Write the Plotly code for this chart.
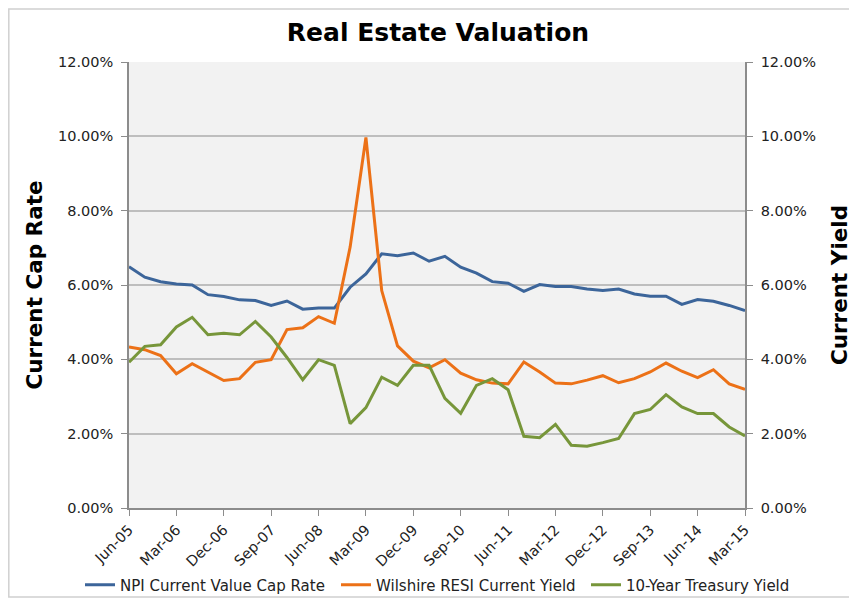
import plotly.graph_objects as go

quarters = []
months = ["Mar", "Jun", "Sep", "Dec"]
for yr in range(2005, 2016):
    for m in months:
        quarters.append(f"{m}-{str(yr)[2:]}")
start = quarters.index("Jun-05")
end = quarters.index("Mar-15")
quarters = quarters[start:end + 1]

npi_cap_rate = [6.49, 6.21, 6.09, 6.03, 6.00, 5.74, 5.69, 5.60, 5.58, 5.45,
                5.57, 5.35, 5.38, 5.38, 5.94, 6.30, 6.84, 6.79, 6.86, 6.64,
                6.77, 6.48, 6.32, 6.09, 6.05, 5.83, 6.01, 5.96, 5.96, 5.89,
                5.85, 5.89, 5.76, 5.70, 5.70, 5.48, 5.61, 5.56, 5.45, 5.31]
wilshire_yield = [4.33, 4.26, 4.10, 3.61, 3.88, 3.66, 3.43, 3.48, 3.92, 3.99,
                  4.80, 4.85, 5.15, 4.97, 7.02, 9.97, 5.85, 4.36, 3.95, 3.77,
                  3.99, 3.63, 3.45, 3.36, 3.34, 3.93, 3.66, 3.36, 3.34, 3.44,
                  3.56, 3.37, 3.48, 3.66, 3.90, 3.68, 3.51, 3.72, 3.34, 3.19]
treasury_yield = [3.92, 4.35, 4.39, 4.87, 5.13, 4.66, 4.70, 4.66, 5.02, 4.60,
                  4.05, 3.45, 3.99, 3.84, 2.27, 2.70, 3.52, 3.30, 3.84, 3.84,
                  2.95, 2.55, 3.30, 3.48, 3.18, 1.93, 1.89, 2.25, 1.69, 1.66,
                  1.76, 1.87, 2.54, 2.65, 3.05, 2.72, 2.54, 2.54, 2.18, 1.94]
tick_labels = quarters[::3]
y_tick_values = [0, 2, 4, 6, 8, 10, 12]
y_tick_text = [f"{v:.2f}%" for v in y_tick_values]

FONT = "DejaVu Sans"
idx = list(range(len(quarters)))

# page body has an 8px margin; figure is sized/positioned to compensate
OFF = 8
W, H = 857 - OFF, 602 - OFF
PL, PR, PT, PB = 129, 745, 62, 508          # plot area in page pixels
L, R, T, B = PL - OFF, W - (PR - OFF), PT - OFF, H - (PB - OFF)
pw, ph = W - L - R, H - T - B

def px(xp):
    return (xp - OFF - L) / pw
def py(yp):
    return (H - B - (yp - OFF)) / ph
def cx(xp):
    return (xp - OFF) / W
def cy(yp):
    return 1 - (yp - OFF) / H

fig = go.Figure()
fig.add_trace(go.Scatter(x=idx, y=npi_cap_rate, mode="lines", name="NPI Current Value Cap Rate",
                         line=dict(color="#3C659A", width=3), legend="legend"))
fig.add_trace(go.Scatter(x=idx, y=wilshire_yield, mode="lines", name="Wilshire RESI Current Yield",
                         line=dict(color="#EC7117", width=3), yaxis="y2", legend="legend2"))
fig.add_trace(go.Scatter(x=idx, y=treasury_yield, mode="lines", name="10-Year Treasury Yield",
                         line=dict(color="#77963A", width=3), yaxis="y2", legend="legend3"))

yaxis_common = dict(range=[0, 12], tickvals=y_tick_values, ticktext=y_tick_text,
                    ticks="outside", ticklen=6, tickcolor="#8c8c8c", automargin=False,
                    ticklabelstandoff=5,
                    showline=True, linecolor="#8c8c8c", linewidth=1.5,
                    tickfont=dict(family=FONT, size=14.5, color="#222"), zeroline=False, fixedrange=True)

def legend_at(xline):
    return dict(orientation="h", xref="container", yref="container", x=cx(xline - 5), xanchor="left",
                y=cy(585), yanchor="middle", font=dict(family=FONT, size=15, color="#222"),
                itemwidth=30, bgcolor="rgba(0,0,0,0)", borderwidth=0)

fig.update_layout(
    width=W, height=H,
    margin=dict(l=L, r=R, t=T, b=B, autoexpand=False, pad=0),
    paper_bgcolor="white", plot_bgcolor="#F2F2F2",
    title=dict(text="<b>Real Estate Valuation</b>", x=cx(438), xanchor="center", xref="container",
               y=cy(32), yanchor="middle", yref="container",
               font=dict(family=FONT, size=25, color="black")),
    xaxis=dict(range=[0, len(idx) - 1], tickvals=idx[::3], ticktext=tick_labels, tickangle=-45,
               ticks="outside", ticklen=6, tickcolor="#8c8c8c", showgrid=False, automargin=False,
               showline=True, linecolor="#8c8c8c", linewidth=1.5,
               tickfont=dict(family=FONT, size=14.5, color="#222"), fixedrange=True),
    yaxis=dict(**yaxis_common, showgrid=True, gridcolor="#BEBEBE", gridwidth=1.5,
               title=dict(text="<b>Current Cap Rate</b>", font=dict(family=FONT, size=21.5, color="black"),
                          standoff=10)),
    yaxis2=dict(**yaxis_common, overlaying="y", side="right", showgrid=False,
                title=dict(text="<b>Current Yield</b>", font=dict(family=FONT, size=21.5, color="black"),
                           standoff=17)),
    legend=legend_at(85),
    legend2=legend_at(341),
    legend3=legend_at(591),
    showlegend=True,
    shapes=[dict(type="rect", xref="paper", yref="paper", x0=px(8.8), x1=px(850), y0=py(597), y1=py(9),
                 line=dict(color="#D0D0D0", width=1.5), layer="below")],
)

fig.write_html("out.html")
